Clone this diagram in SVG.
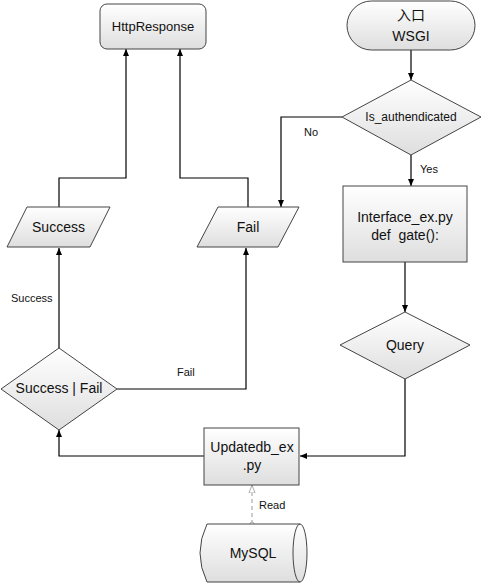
<svg xmlns="http://www.w3.org/2000/svg" width="484" height="584" viewBox="0 0 484 584">
<defs>
<linearGradient id="g" x1="0" y1="0" x2="0" y2="1">
<stop offset="0" stop-color="#ffffff"/>
<stop offset="1" stop-color="#dedede"/>
</linearGradient>
<marker id="a" markerWidth="8" markerHeight="8" refX="7" refY="4" orient="auto" markerUnits="userSpaceOnUse">
<path d="M0,1 L7,4 L0,7 Z" fill="#000"/>
</marker>
<marker id="h" markerWidth="10" markerHeight="10" refX="8" refY="4" orient="auto" markerUnits="userSpaceOnUse">
<path d="M0,1 L8,4 L0,7 Z" fill="#fff" stroke="#999" stroke-width="0.8"/>
</marker>
<marker id="c" markerWidth="6" markerHeight="6" refX="3" refY="3" orient="auto" markerUnits="userSpaceOnUse">
<circle cx="3" cy="3" r="2" fill="#fff" stroke="#999" stroke-width="0.8"/>
</marker>
<style>
.s{fill:url(#g);stroke:#444;stroke-width:1}
.t{font-family:"Liberation Sans","Noto Sans CJK SC",sans-serif;font-size:14px;fill:#111;text-anchor:middle;white-space:pre}
.l{font-family:"Liberation Sans",sans-serif;font-size:11px;fill:#111}
.e{fill:none;stroke:#000;stroke-width:1.2}
</style>
</defs>
<g id="connectors">
<path class="e" d="M411,50 V80" marker-end="url(#a)"/>
<path class="e" d="M342,117 H281 V207" marker-end="url(#a)"/>
<path class="e" d="M411,155 V186" marker-end="url(#a)"/>
<path class="e" d="M405,262 V312" marker-end="url(#a)"/>
<path class="e" d="M405,379 V456 H300" marker-end="url(#a)"/>
<path class="e" d="M204,456 H59 V430" marker-end="url(#a)"/>
<path class="e" d="M59,348 V248" marker-end="url(#a)"/>
<path class="e" d="M117,389 H246 V248" marker-end="url(#a)"/>
<path class="e" d="M59,207 V178 H126 V49" marker-end="url(#a)"/>
<path class="e" d="M248,207 V178 H180 V49" marker-end="url(#a)"/>
<path d="M252,524 V485" fill="none" stroke="#999" stroke-width="1" stroke-dasharray="4,3" marker-start="url(#c)" marker-end="url(#h)"/>
<text class="l" x="304" y="136">No</text>
<text class="l" x="420" y="173">Yes</text>
<text class="l" x="11" y="302">Success</text>
<text class="l" x="177" y="376">Fail</text>
<text class="l" x="259" y="509">Read</text>
</g>
<g id="httpresponse">
<rect class="s" x="100" y="4" width="106" height="45" rx="7"/>
<text class="t" x="153" y="31" style="font-size:13px">HttpResponse</text>
</g>
<g id="entry">
<rect class="s" x="347" y="1" width="128" height="49" rx="24.5"/>
<text class="t" x="411" y="20">入口</text>
<text class="t" x="411" y="41">WSGI</text>
</g>
<g id="is_auth">
<path class="s" d="M411,80 L481,117 L411,155 L342,117 Z"/>
<text class="t" x="411" y="121" style="font-size:12px">Is_authendicated</text>
</g>
<g id="interface">
<rect class="s" x="343" y="186" width="124" height="76"/>
<text class="t" x="405" y="222">Interface_ex.py</text>
<text class="t" x="405" y="240" xml:space="preserve">def  gate():</text>
</g>
<g id="query">
<path class="s" d="M405,312 L470,345 L405,379 L340,345 Z"/>
<text class="t" x="405" y="350">Query</text>
</g>
<g id="updatedb">
<rect class="s" x="204" y="428" width="95" height="57"/>
<text class="t" x="252" y="452">Updatedb_ex</text>
<text class="t" x="252" y="470">.py</text>
</g>
<g id="mysql">
<path class="s" d="M207,524 H300 A7,29 0 0 1 300,582 H207 Q193,553 207,524 Z"/>
<path d="M300,524 A7,29 0 0 0 300,582" fill="none" stroke="#444" stroke-width="1"/>
<text class="t" x="253" y="558">MySQL</text>
</g>
<g id="success_fail">
<path class="s" d="M59,348 L117,389 L59,430 L1,389 Z"/>
<text class="t" x="59" y="393">Success | Fail</text>
</g>
<g id="success">
<path class="s" d="M27,207 H110 L90,247 H7 Z"/>
<text class="t" x="58.5" y="232">Success</text>
</g>
<g id="fail">
<path class="s" d="M218,207 H299 L278,247 H197 Z"/>
<text class="t" x="248" y="232">Fail</text>
</g>
</svg>
